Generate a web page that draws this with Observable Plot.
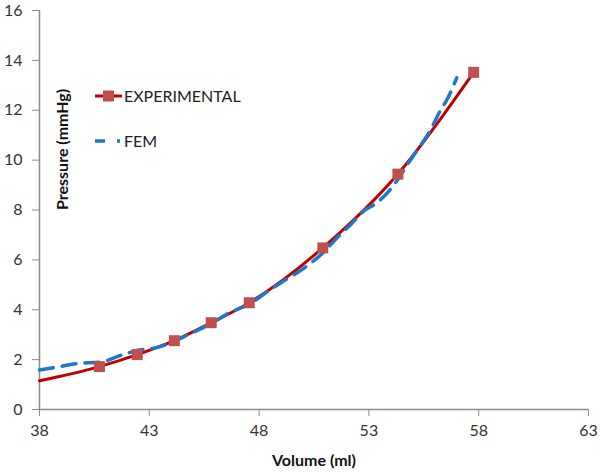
<!DOCTYPE html>
<html>
<head>
<meta charset="utf-8">
<script src="https://cdn.jsdelivr.net/npm/d3@7"></script>
<script src="https://cdn.jsdelivr.net/npm/@observablehq/plot@0.6"></script>
<style>
  html, body { margin: 0; padding: 0; background: #fff; }
  #wrap { position: relative; width: 600px; height: 472px; font-family: Lato, "Open Sans", sans-serif; }
  #legend { position: absolute; left: 0; top: 0; pointer-events: none; }
</style>
</head>
<body>
<div id="wrap"><div id="chart"></div><svg id="legend" width="600" height="472"></svg></div>
<script>
// Experimental series
const expVolume   = [38.0, 40.73, 42.45, 44.14, 45.82, 47.55, 50.9, 54.32, 57.77];
const expPressure = [1.15, 1.72, 2.20, 2.76, 3.48, 4.28, 6.48, 9.44, 13.52];
const expMarker   = [false, true, true, true, true, true, true, true, true];
// FEM series
const femVolume   = [38.0, 38.8, 39.7, 40.8, 41.6, 42.5, 43.3, 44.1, 44.9, 45.8, 46.6, 47.6, 48.4, 49.1, 50.0, 50.9, 51.5, 52.2, 52.8, 53.3, 53.9, 54.3, 54.7, 55.2, 55.8, 56.2, 56.6, 57.0];
const femPressure = [1.58, 1.70, 1.84, 1.90, 2.14, 2.38, 2.48, 2.72, 3.06, 3.44, 3.86, 4.25, 4.74, 5.14, 5.64, 6.28, 6.84, 7.44, 7.98, 8.25, 8.75, 9.20, 9.75, 10.4, 11.2, 11.9, 12.5, 13.3];
// Axes
const xTicks = [38, 43, 48, 53, 58, 63];
const yTicks = [0, 2, 4, 6, 8, 10, 12, 14, 16];
const xLabel = "Volume (ml)";
const yLabel = "Pressure (mmHg)";
const seriesNames = ["EXPERIMENTAL", "FEM"];

const expData = expVolume.map((v, i) => ({v, p: expPressure[i], m: expMarker[i]}));
const femData = femVolume.map((v, i) => ({v, p: femPressure[i]}));

const RED_LINE = "#C00000", RED_MARK = "#C0504D", BLUE = "#1F77C8", AXIS = "#8C8C8C", TXT = "#333";

const chart = Plot.plot({
  width: 600,
  height: 472,
  marginLeft: 39,
  marginTop: 10,
  marginRight: 12,
  marginBottom: 63,
  style: {fontFamily: "Lato, 'Open Sans', sans-serif", fontSize: "16px", color: TXT, background: "#fff"},
  x: {domain: [38, 63]},
  y: {domain: [0, 16]},
  marks: [
    Plot.axisX({ticks: xTicks, tickSize: 7, tickPadding: 8, stroke: AXIS, tickFormat: d => String(d),
      label: xLabel, labelAnchor: "center", labelOffset: 56, labelArrow: false, fontSize: 16}),
    Plot.axisY({ticks: yTicks, tickSize: 7, tickPadding: 10, stroke: AXIS, tickFormat: d => String(d), label: null, fontSize: 16}),
    Plot.ruleX([38], {stroke: AXIS, strokeWidth: 1.5}),
    Plot.ruleY([0], {stroke: AXIS, strokeWidth: 1.5}),
    Plot.text([yLabel], {frameAnchor: "left", dx: 23, dy: 0, rotate: -90, fontWeight: "bold", fontSize: 16, fill: "#111"}),
    Plot.line(expData, {x: "v", y: "p", stroke: RED_LINE, strokeWidth: 3, curve: "monotone-x"}),
    Plot.line(femData, {x: "v", y: "p", stroke: BLUE, strokeWidth: 3.5, strokeDasharray: "14,9", curve: "monotone-x"}),
    Plot.dot(expData.filter(d => d.m), {x: "v", y: "p", symbol: "square", r: 6.2, fill: RED_MARK, stroke: null})
  ]
});
document.getElementById("chart").appendChild(chart);
// make x label bold & darker
d3.select(chart).selectAll('[aria-label="x-axis label"] text').attr("font-weight", "bold").attr("font-size", 16).attr("fill", "#111");

// Legend overlay
const lg = d3.select("#legend");
const g1 = lg.append("g").attr("transform", "translate(95,96)");
g1.append("line").attr("x1", 0).attr("x2", 27).attr("stroke", RED_LINE).attr("stroke-width", 3);
g1.append("rect").attr("x", 8).attr("y", -5.5).attr("width", 11).attr("height", 11).attr("fill", RED_MARK);
g1.append("text").attr("x", 29).attr("y", 6).text(seriesNames[0]).attr("font-size", 16).attr("fill", "#222").attr("font-family", "Lato, 'Open Sans', sans-serif");
const g2 = lg.append("g").attr("transform", "translate(95,141)");
g2.append("line").attr("x1", 0).attr("x2", 27).attr("stroke", BLUE).attr("stroke-width", 3.5).attr("stroke-dasharray", "10,12,3,20");
g2.append("text").attr("x", 29).attr("y", 6).text(seriesNames[1]).attr("font-size", 16).attr("fill", "#222").attr("font-family", "Lato, 'Open Sans', sans-serif");
</script>
</body>
</html>
